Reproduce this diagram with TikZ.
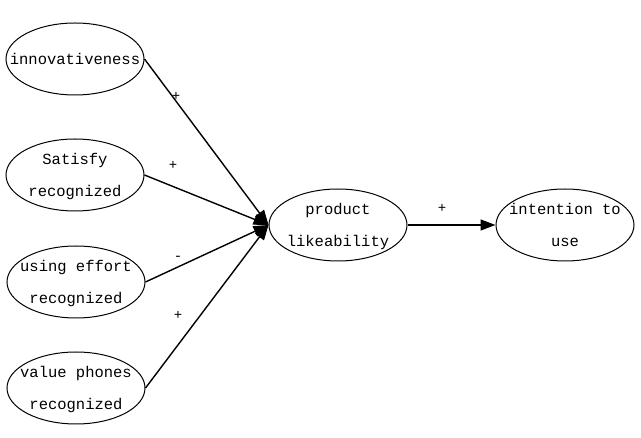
\documentclass[tikz,border=0pt]{standalone}
\usepackage{fontspec}
\setmonofont{Liberation Mono}
\usetikzlibrary{shapes.geometric,arrows.meta}
\newcommand{\vtxt}[1]{\smash{\makebox[0pt]{\raisebox{-3pt}{\begin{tabular}{@{}c@{}}#1\end{tabular}}}}}
\tikzset{
  var/.style={draw, ellipse, line width=1pt, minimum width=138pt, minimum height=72pt, inner sep=0pt,
    font=\ttfamily\fontsize{15.5}{32}\selectfont},
  path/.style={line width=1.4pt, -{Triangle[length=15pt,width=11pt]}},
  sign/.style={font=\ttfamily\fontsize{14}{14}\selectfont, inner sep=0pt}
}
\begin{document}
\begin{tikzpicture}[x=1pt,y=-1pt]
\useasboundingbox (0,0) rectangle (641,438);
\node[var] (inn) at (75,59) {\vtxt{innovativeness}};
\node[var] (sat) at (75,175) {\vtxt{Satisfy\\recognized}};
\node[var] (eff) at (76,282) {\vtxt{using effort\\recognized}};
\node[var] (val) at (76,388) {\vtxt{value phones\\recognized}};
\node[var] (prod) at (338,225) {\vtxt{product\\likeability}};
\node[var] (int) at (565,225) {\vtxt{intention to\\use}};
\draw[path] (inn.east) -- (prod.west);
\draw[path] (sat.east) -- (prod.west);
\draw[path] (eff.east) -- (prod.west);
\draw[path] (val.east) -- (prod.west);
\draw[path] (prod.east) -- (int.west);
\node[sign] (s1) at (176,96) {+};
\node[sign] (s2) at (173,165) {+};
\node[sign] (s3) at (178,258) {-};
\node[sign] (s4) at (178,315) {+};
\node[sign] (s5) at (442,208) {+};
\end{tikzpicture}
\end{document}
